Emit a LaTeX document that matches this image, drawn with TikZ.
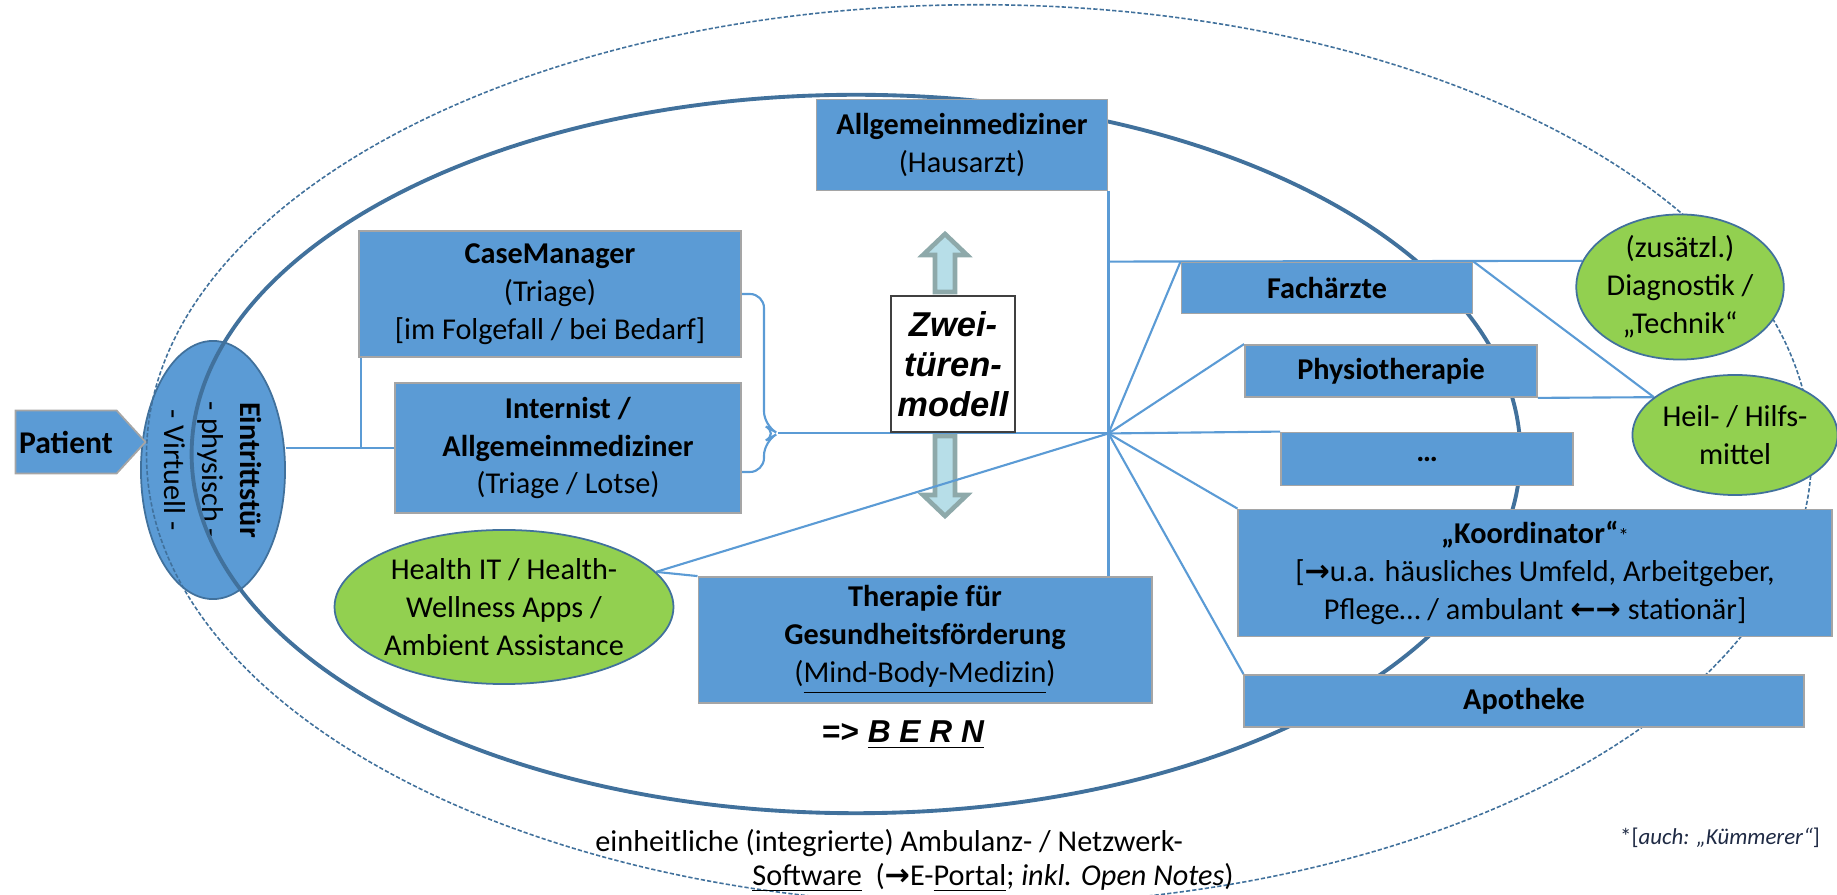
\documentclass[tikz,border=0pt]{standalone}
\usepackage{fontspec}
\setmainfont{Carlito}
\newfontfamily\arialfont{Liberation Sans}
\newfontfamily\arrowfont{DejaVu Sans}
\usetikzlibrary{shapes.geometric}
\usetikzlibrary{shapes.symbols}
\usetikzlibrary{calc}
\definecolor{boxblue}{HTML}{5B9BD5}
\definecolor{boxedge}{HTML}{A5A5A5}
\definecolor{ringblue}{HTML}{41719C}
\definecolor{leafgreen}{HTML}{92D050}
\definecolor{arrowfill}{HTML}{B7DEE8}
\definecolor{arrowedge}{HTML}{8EA9AA}
\definecolor{notecol}{HTML}{1F2A44}
\newcommand\pfeilr{{\arrowfont\bfseries →}}
\newcommand\pfeill{{\arrowfont\bfseries ←}}
\newcommand\boxfont{\fontsize{8.6}{10.8}\selectfont}
\tikzstyle{box}=[draw=boxedge, fill=boxblue, line width=0.5pt, inner sep=0pt, align=center, font=\boxfont]
\tikzstyle{leaf}=[ellipse, draw=ringblue, fill=leafgreen, line width=0.5pt, inner sep=0pt, align=center, font=\boxfont]
\tikzstyle{conn}=[draw=boxblue, line width=0.6pt]
\tikzstyle{ring}=[draw=ringblue, line width=1.1pt]
\tikzstyle{outerring}=[draw=ringblue, line width=0.45pt, dash pattern=on 1.2pt off 0.6pt]
\tikzstyle{doorarrow}=[draw=arrowedge, fill=arrowfill, line width=1.3pt, line join=miter]
\pgfdeclarelayer{bg}
\pgfdeclarelayer{rings}
\pgfsetlayers{bg,rings,main}

\begin{document}
\begin{tikzpicture}[x=0.01cm, y=-0.01cm]
  \useasboundingbox (0,0) rectangle (1837,895);

  \node[box, signal, signal to=east, signal pointer angle=95, minimum width=1.30cm, minimum height=0.63cm, font=\fontsize{9}{10}\selectfont\bfseries] (patient) at (66,442) {Patient};

  \node[box, minimum width=3.82cm, minimum height=1.26cm] (cm) at (550,294)
    {\textbf{CaseManager}\\(Triage)\\{[im Folgefall / bei Bedarf]}};
  \node[box, minimum width=3.46cm, minimum height=1.30cm] (intern) at (568,448)
    {\textbf{Internist /}\\\textbf{Allgemeinmediziner}\\(Triage / Lotse)};
  \node[box, minimum width=2.91cm, minimum height=0.91cm] (allg) at (962,145)
    {\textbf{Allgemeinmediziner}\\(Hausarzt)};
  \node[draw=black!75, fill=white, line width=0.8pt, minimum width=1.24cm, minimum height=1.36cm, inner sep=0pt, align=center,
    font=\fontsize{9.8}{11.4}\selectfont\arialfont\bfseries\itshape] (zwei) at (953,364) {Zwei-\\türen-\\modell};
  \node[box, minimum width=4.53cm, minimum height=1.26cm] (ther) at (925,640)
    {\textbf{Therapie für}\\\textbf{Gesundheitsförderung}\\(\underline{Mind-Body-Medizin})};
  \node[leaf, minimum width=3.22cm, minimum height=1.54cm] (health) at (504,607)
    {Health IT / Health-\\Wellness Apps /\\Ambient Assistance};

  \node[box, minimum width=2.91cm, minimum height=0.51cm] (fach) at (1327,288) {\textbf{Fachärzte}};
  \node[box, minimum width=2.92cm, minimum height=0.52cm] (phys) at (1391,371) {\textbf{Physiotherapie}};
  \node[box, minimum width=2.92cm, minimum height=0.53cm] (dots) at (1427,459) {\textbf{…}};
  \node[box, minimum width=5.93cm, minimum height=1.27cm] (koord) at (1535,573)
    {\textbf{„Koordinator“}{\fontsize{6}{6}\selectfont *}\\{[}\pfeilr u.a. häusliches Umfeld, Arbeitgeber,\\Pflege… / ambulant \pfeill\pfeilr{} stationär{]}};
  \node[box, minimum width=5.59cm, minimum height=0.52cm] (apo) at (1524,701) {\textbf{Apotheke}};
  \node[leaf, minimum width=1.96cm, minimum height=1.30cm] (diag) at (1680,287)
    {(zusätzl.)\\Diagnostik /\\„Technik“};
  \node[leaf, minimum width=1.94cm, minimum height=1.20cm] (heil) at (1735,435)
    {Heil- / Hilfs-\\mittel};

  \node[font=\fontsize{9}{10}\selectfont\arialfont\bfseries] (bern) at (903,735) {=> \textit{\underline{B E R N}}};
  \node[anchor=west, font=\boxfont] (sw1) at (583,843) {einheitliche (integrierte) Ambulanz- / Netzwerk-};
  \node[anchor=west, font=\boxfont] (sw2) at (740,878)
    {\underline{Software}\ \ (\pfeilr E-\underline{Portal}; \textit{inkl. Open Notes})};
  \node[font=\fontsize{6.5}{7}\selectfont, text=notecol] (note) at (1720,838) {*[\textit{auch: „Kümmerer“}]};

  \coordinate (hub) at (allg.south east |- zwei.south);
  \coordinate (brace) at ($(cm.east |- zwei.south)+(36,0)$);

  \begin{pgfonlayer}{bg}
    \node[ellipse, draw=ringblue, fill=boxblue, line width=0.5pt, rotate=-90, minimum width=2.58cm, minimum height=1.44cm,
      inner sep=0pt, align=center, font=\boxfont] (door) at (213,470) {\textbf{Eintrittstür}\\- physisch -\\- Virtuell -};
    \draw[doorarrow] (935,292) -- (935,255) -- (923,255) -- (945,234) -- (967,255) -- (955,255) -- (955,292) -- cycle;
    \draw[doorarrow] (935,436) -- (935,495) -- (923,495) -- (945,516) -- (967,495) -- (955,495) -- (955,436) -- cycle;
  \end{pgfonlayer}

  \begin{pgfonlayer}{rings}
    \draw[outerring] (979,455) ellipse [x radius=8.32cm, y radius=4.50cm];
    \draw[ring] (856,454) ellipse [x radius=6.64cm, y radius=3.59cm];
    \draw[conn] (door.north |- intern.west) -- (intern.west);
    \draw[conn] ($(cm.south west)+(3,0)$) |- (intern.west);
    \draw[conn, rounded corners=4pt] (cm.east) -| ($(brace)+(-14,-8)$) -- (brace)
      -- ($(brace)+(-14,8)$) |- ($(intern.east)+(0,24)$);
    \draw[conn] (brace) -- (hub);
    \draw[conn] (allg.south east) -- (allg.south east |- ther.north);
    \draw[conn] (allg.south east |- fach.north) -- (diag.165);
    \foreach \n in {fach, phys, dots, koord, apo}
      \draw[conn] (hub) -- (\n.north west);
    \draw[conn] (hub) -- (health.13);
    \draw[conn] (health.13) -- (ther.north west);
    \draw[conn] (fach.north east) -- (heil.155);
    \draw[conn] (phys.south east) -- (heil.155);
  \end{pgfonlayer}
\end{tikzpicture}
\end{document}
